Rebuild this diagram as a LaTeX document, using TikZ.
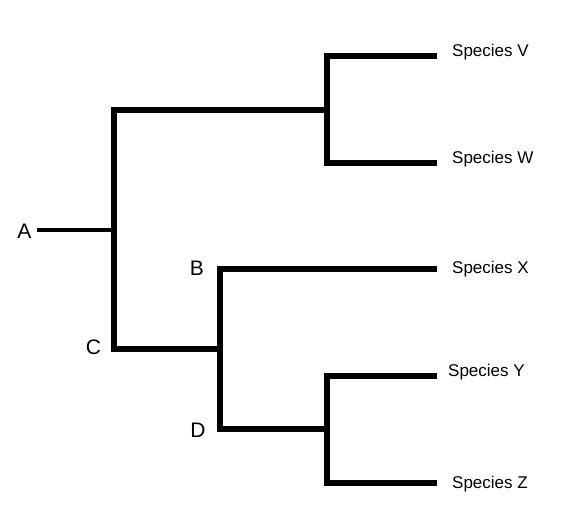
\documentclass[tikz,border=0pt]{standalone}
\usepackage{fontspec}
\setmainfont{Liberation Sans}
\begin{document}
\begin{tikzpicture}[x=1pt,y=-1pt,
branch/.style={line width=5.5pt},
stem/.style={line width=4.5pt},
taxon/.style={anchor=base west,inner sep=0pt,font=\fontsize{17}{20}\selectfont},
clade/.style={inner sep=0pt,font=\fontsize{21}{24}\selectfont}]
\useasboundingbox (0,0) rectangle (574,512);

% junctions
\coordinate (rootEnd) at (37,230);
\coordinate (AC) at (114,230);
\coordinate (C) at (114,349);
\coordinate (VW) at (327,110);
\coordinate (BD) at (220,349);
\coordinate (B) at (220,269);
\coordinate (D) at (220,429);
\coordinate (YZ) at (327,429);

% leaf ends
\coordinate (vEnd) at (437,56);
\coordinate (wEnd) at (437,163);
\coordinate (xEnd) at (437,269);
\coordinate (yEnd) at (437,376);
\coordinate (zEnd) at (437,483);

% leaves
\node[taxon] (V) at (452,56) {Species V};
\node[taxon] (W) at (452,163) {Species W};
\node[taxon] (X) at (452,273) {Species X};
\node[taxon] (Y) at (448,376) {Species Y};
\node[taxon] (Z) at (452,488) {Species Z};

% internal labels
\node[clade] (labA) at (24.5,231) {A};
\node[clade] (labB) at (197,268) {B};
\node[clade] (labC) at (93.5,347.5) {C};
\node[clade] (labD) at (198,430) {D};

% tree
\draw[stem] (rootEnd) -- (AC);
\draw[branch] (VW) -| (C) -- (BD);
\draw[branch] (xEnd) -| (B) -- (D) -- (YZ);
\draw[branch] (vEnd) -| (VW) |- (wEnd);
\draw[branch] (yEnd) -| (YZ) |- (zEnd);
\end{tikzpicture}
\end{document}
